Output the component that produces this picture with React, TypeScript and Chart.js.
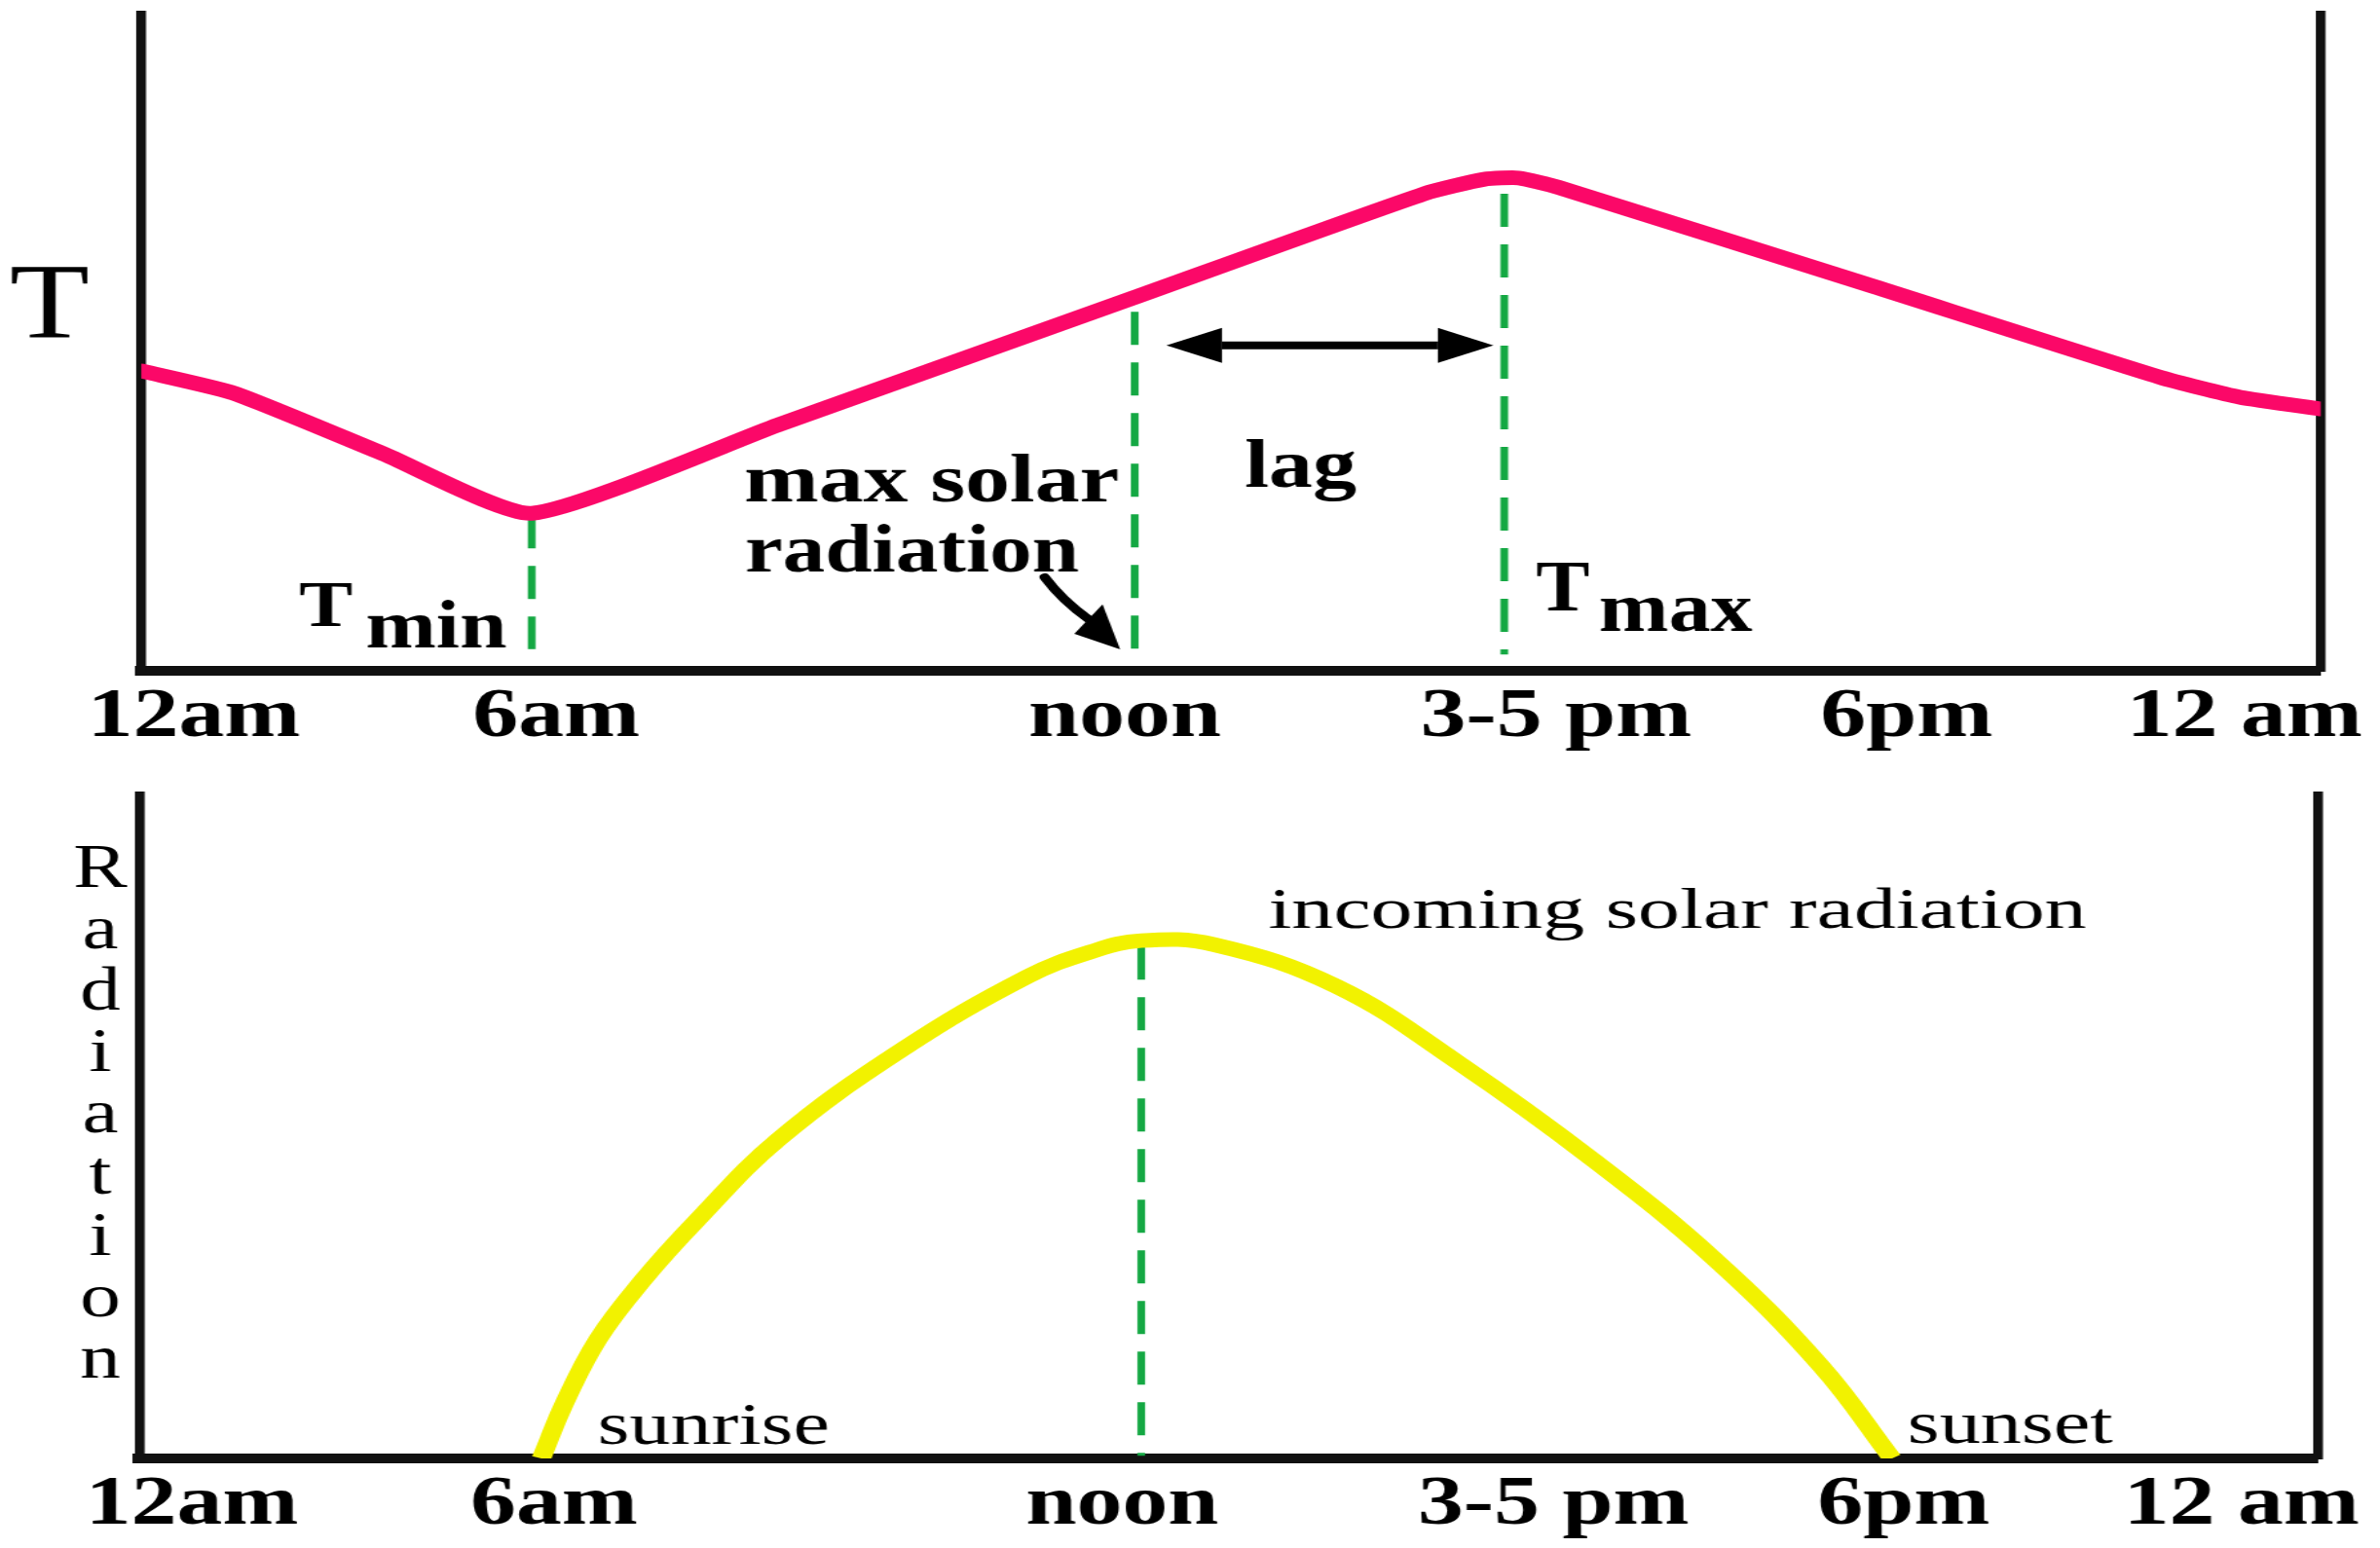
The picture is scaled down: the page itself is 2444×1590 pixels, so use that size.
import React, { useEffect, useRef } from 'react';
import { Chart, registerables } from 'chart.js';

Chart.register(...registerables);

// ---------- data ----------
const TICK_HOURS = [0.58, 4.57, 10.83, 15.58, 19.44, 23.16];
const TICK_LABELS = ['12am', '6am', 'noon', '3-5 pm', '6pm', '12 am'];

// temperature curve (schematic hours / relative temperature)
const TEMP_HOURS = [0, 1.02, 2.66, 4.3, 7.02, 10.9, 14.13, 14.79, 15.17, 15.6, 19.07, 22.24, 23.11, 24];
const TEMP_VALUES = [45.7, 42.3, 33.1, 24.0, 37.5, 56.7, 72.7, 74.9, 75.1, 73.7, 58.6, 44.7, 41.7, 39.9];

// incoming solar radiation curve
const RAD_HOURS = [4.43, 4.69, 5.06, 5.55, 6.13, 7.05, 8.42, 9.79, 10.48, 11.04, 11.84, 13.19, 14.52, 16.03, 17.36, 18.53, 19.31];
const RAD_VALUES = [0, 8.5, 18.1, 26.9, 35.7, 48.2, 61.8, 72.7, 76.4, 78.1, 77.5, 71.2, 59.8, 44.9, 30.0, 13.9, 0];

// dashed reference lines
const TOP_MARKER_HOURS = [4.3, 10.94, 15.01];
const TOP_MARKER_TOPS = [23.7, 54.7, 72.7];
const TOP_MARKER_BOTTOMS = [3.3, 1.5, 2.5];

const BOTTOM_MARKER_HOURS = [11.04];
const BOTTOM_MARKER_TOPS = [77.2];
const BOTTOM_MARKER_BOTTOMS = [0.4];

// lag arrow (from noon to T max) and pointer arrow
const LAG_ARROW_HOURS = [11.29, 14.89];
const LAG_ARROW_VALUE = 49.6;
const POINTER_FROM = [9.95, 14.24];
const POINTER_TO = [10.78, 3.26];

const RADIATION_LETTERS = 'Radiation'.split('');

// ---------- styling ----------
const CANVAS_W = 1852;
const SX = 2444 / CANVAS_W; // horizontal stretch of the drawing
const FONT = '"Liberation Serif", "Times New Roman", Times, serif';
const RED = '#fb0868';
const YELLOW = '#f2f200';
const GREEN = '#14a843';
const AXIS = '#111111';

type Note = { text: string; h: number; v: number; size: number; bold?: boolean; w?: number; k?: number; align?: CanvasTextAlign };

const TOP_NOTES: Note[] = [
  { text: 'T', h: -1.45, v: 50.7, size: 110, w: 82 },
  { text: 'T', h: 1.74, v: 6.8, size: 68, bold: true, w: 55 },
  { text: 'min', h: 2.47, v: 3.6, size: 70, bold: true, w: 145 },
  { text: 'max solar', h: 6.64, v: 25.8, size: 70, bold: true, w: 385 },
  { text: 'radiation', h: 6.65, v: 15.1, size: 70, bold: true, w: 343 },
  { text: 'lag', h: 12.15, v: 28.0, size: 70, bold: true, w: 115 },
  { text: 'T', h: 15.36, v: 9.2, size: 74, bold: true, w: 55 },
  { text: 'max', h: 16.05, v: 6.1, size: 72, bold: true, w: 158 },
];

const BOTTOM_NOTES: Note[] = [
  { text: 'incoming solar radiation', h: 12.44, v: 80.0, size: 60, w: 840 },
  { text: 'sunrise', h: 5.05, v: 2.2, size: 62, w: 238 },
  { text: 'sunset', h: 19.48, v: 2.3, size: 62, w: 211 },
  ...RADIATION_LETTERS.map((c, i) => ({ text: c, h: -0.43, v: 86.2 - i * 9.25, size: 64, k: 1.3, align: 'center' as CanvasTextAlign })),
];

function drawNotes(chart: any, notes: Note[]) {
  const ctx = chart.ctx;
  const xs = chart.scales.x;
  const ys = chart.scales.y;
  for (const n of notes) {
    ctx.save();
    ctx.font = `${n.bold ? 'bold ' : ''}${n.size}px ${FONT}`;
    ctx.fillStyle = '#000';
    ctx.textBaseline = 'alphabetic';
    ctx.textAlign = n.align || 'left';
    const m = ctx.measureText(n.text).width;
    const k = n.w ? n.w / SX / m : (n.k || 1) / SX;
    ctx.translate(xs.getPixelForValue(n.h), ys.getPixelForValue(n.v));
    ctx.scale(k, 1);
    ctx.fillText(n.text, 0, 0);
    ctx.restore();
  }
}

// arrow helpers work in displayed pixel space (x * SX), then map back
function arrowHead(ctx: any, tip: number[], from: number[], len: number, half: number) {
  const tx = tip[0] * SX, ty = tip[1];
  const fx = from[0] * SX, fy = from[1];
  const dx = tx - fx, dy = ty - fy;
  const d = Math.hypot(dx, dy) || 1;
  const ux = dx / d, uy = dy / d;
  const bx = tx - ux * len, by = ty - uy * len;
  const px = -uy, py = ux;
  ctx.beginPath();
  ctx.moveTo(tx / SX, ty);
  ctx.lineTo((bx + px * half) / SX, by + py * half);
  ctx.lineTo((bx - px * half) / SX, by - py * half);
  ctx.closePath();
  ctx.fill();
  return [bx / SX, by];
}

const topArrows = {
  id: 'topArrows',
  afterDatasetsDraw(chart: any) {
    const ctx = chart.ctx;
    const xs = chart.scales.x;
    const ys = chart.scales.y;
    ctx.save();
    ctx.fillStyle = '#000';
    ctx.strokeStyle = '#000';
    // lag double arrow
    const y = ys.getPixelForValue(LAG_ARROW_VALUE);
    const xl = xs.getPixelForValue(LAG_ARROW_HOURS[0]);
    const xr = xs.getPixelForValue(LAG_ARROW_HOURS[1]);
    const bl = arrowHead(ctx, [xl, y], [xr, y], 57, 18);
    const br = arrowHead(ctx, [xr, y], [xl, y], 57, 18);
    ctx.lineWidth = 8;
    ctx.beginPath();
    ctx.moveTo(bl[0], y);
    ctx.lineTo(br[0], y);
    ctx.stroke();
    // pointer arrow to noon line
    const s = [xs.getPixelForValue(POINTER_FROM[0]), ys.getPixelForValue(POINTER_FROM[1])];
    const t = [xs.getPixelForValue(POINTER_TO[0]), ys.getPixelForValue(POINTER_TO[1])];
    const b = arrowHead(ctx, t, s, 45, 21);
    ctx.lineWidth = 8;
    ctx.lineCap = 'round';
    ctx.beginPath();
    ctx.moveTo(s[0], s[1]);
    ctx.quadraticCurveTo(s[0] + (b[0] - s[0]) * 0.4, s[1] + (b[1] - s[1]) * 0.55, b[0], b[1]);
    ctx.stroke();
    ctx.restore();
    drawNotes(chart, TOP_NOTES);
  },
};

const bottomNotes = {
  id: 'bottomNotes',
  afterDatasetsDraw(chart: any) {
    drawNotes(chart, BOTTOM_NOTES);
  },
};

function makeScales(axisHeight: number) {
  const hiddenY = (position: string) => ({
    type: 'linear',
    position,
    min: 0,
    max: 100,
    ticks: { display: false },
    grid: { display: false, drawTicks: false },
    border: { display: true, color: AXIS, width: 10 / SX },
    afterFit: (s: any) => {
      s.width = 0;
    },
  });
  return {
    x: {
      type: 'linear',
      position: 'bottom',
      min: 0,
      max: 24,
      grid: { display: false, drawTicks: false },
      border: { display: true, color: AXIS, width: 10 },
      ticks: {
        color: '#000',
        font: { family: FONT, size: 71, weight: 'bold' },
        padding: 6,
        autoSkip: false,
        maxRotation: 0,
        minRotation: 0,
        callback: (_v: any, i: number) => TICK_LABELS[i] ?? '',
      },
      afterBuildTicks: (s: any) => {
        s.ticks = TICK_HOURS.map((v) => ({ value: v }));
      },
      afterFit: (s: any) => {
        s.height = axisHeight;
      },
    },
    y: hiddenY('left'),
    yRight: hiddenY('right'),
  };
}

function markerSets(hours: number[], tops: number[], bottoms: number[]) {
  return hours.map((h, i) => ({
    data: [
      { x: h, y: tops[i] },
      { x: h, y: bottoms[i] },
    ],
    borderColor: GREEN,
    borderWidth: 6,
    borderDash: [34, 18],
    pointRadius: 0,
    fill: false,
    tension: 0,
  }));
}

const baseOptions = (padding: any, axisHeight: number) => ({
  responsive: false,
  animation: false,
  devicePixelRatio: 1,
  events: [],
  layout: { padding },
  plugins: { legend: { display: false }, tooltip: { enabled: false }, title: { display: false } },
  scales: makeScales(axisHeight),
});

export default function App() {
  const topRef = useRef<HTMLCanvasElement>(null);
  const botRef = useRef<HTMLCanvasElement>(null);

  useEffect(() => {
    const top = new Chart(topRef.current as HTMLCanvasElement, {
      type: 'line',
      data: {
        datasets: [
          {
            data: TEMP_HOURS.map((h, i) => ({ x: h, y: TEMP_VALUES[i] })),
            borderColor: RED,
            borderWidth: 15,
            pointRadius: 0,
            fill: false,
            tension: 0.18,
            borderCapStyle: 'round',
            borderJoinStyle: 'round',
          },
          ...markerSets(TOP_MARKER_HOURS, TOP_MARKER_TOPS, TOP_MARKER_BOTTOMS),
        ],
      } as any,
      options: baseOptions({ left: 145 / SX, right: (2444 - 2383) / SX, top: 15, bottom: 0 }, 790 - 689) as any,
      plugins: [topArrows],
    });

    const bot = new Chart(botRef.current as HTMLCanvasElement, {
      type: 'line',
      data: {
        datasets: [
          {
            data: RAD_HOURS.map((h, i) => ({ x: h, y: RAD_VALUES[i] })),
            borderColor: YELLOW,
            borderWidth: 15,
            pointRadius: 0,
            fill: false,
            tension: 0.4,
            borderCapStyle: 'butt',
            borderJoinStyle: 'round',
          },
          ...markerSets(BOTTOM_MARKER_HOURS, BOTTOM_MARKER_TOPS, BOTTOM_MARKER_BOTTOMS),
        ],
      } as any,
      options: baseOptions({ left: 143 / SX, right: (2444 - 2380) / SX, top: 817 - 790, bottom: 0 }, 800 - (1498 - 790)) as any,
      plugins: [bottomNotes],
    });

    return () => {
      top.destroy();
      bot.destroy();
    };
  }, []);

  return (
    <div style={{ position: 'fixed', left: 0, top: 0, width: 2444, height: 1590, background: '#fff', overflow: 'hidden' }}>
      <canvas
        ref={topRef}
        width={CANVAS_W}
        height={790}
        style={{ position: 'absolute', left: 0, top: 0, width: '2444px', height: '790px' }}
      />
      <canvas
        ref={botRef}
        width={CANVAS_W}
        height={800}
        style={{ position: 'absolute', left: 0, top: 790, width: '2444px', height: '800px' }}
      />
    </div>
  );
}
